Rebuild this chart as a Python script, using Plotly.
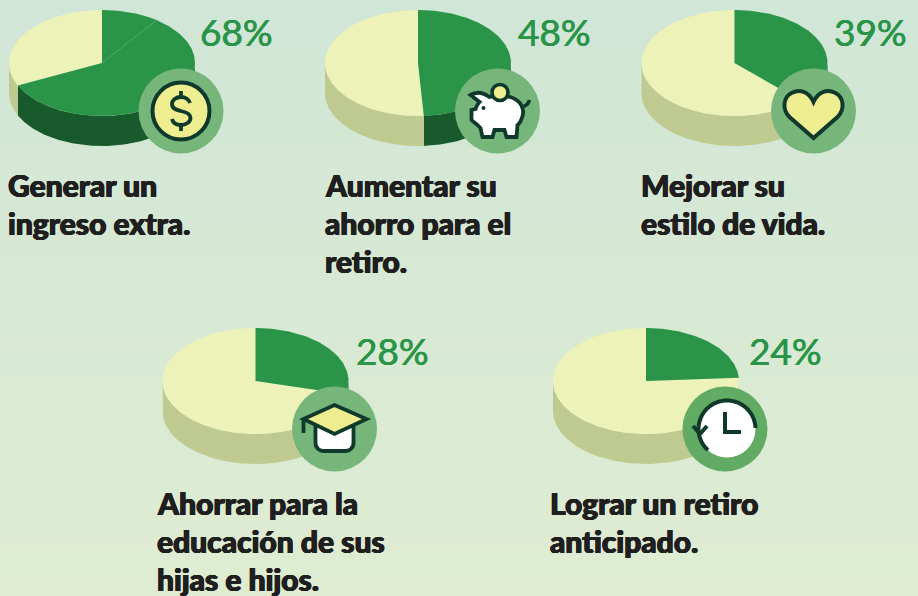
import numpy as np
import plotly.graph_objects as go

# survey shares, green slices in clockwise order from 12 o'clock
labels = [
    ["Generar un", "ingreso extra."],
    ["Aumentar su", "ahorro para el", "retiro."],
    ["Mejorar su", "estilo de vida."],
    ["Ahorrar para la", "educación de sus", "hijas e hijos."],
    ["Lograr un retiro", "anticipado."],
]
pct_labels = ["68%", "48%", "39%", "28%", "24%"]
# as drawn in the picture, the slices do not always match the printed share
green_slices = [[10, 58], [49], [37.5], [29], [24]]

# layout, in page pixels
centers = [(102, 63), (418, 63), (734.5, 63), (255.5, 381), (646, 381)]
badges = [(181, 111), (497.5, 111), (813.5, 111), (334.5, 429), (725, 429)]
pct_pos = [(198, 31), (516, 31), (832, 31), (354, 350), (747, 350)]
label_pos = [(6, 185), (323, 185), (639, 185), (155, 503), (548, 503)]
LINE_GAP = 38
RX, RY, DEPTH = 93, 53, 30

GREEN = "#2a9548"
DARK_GREEN = "#185a2b"
CREAM = "#ecf2b8"
CREAM_SIDE = "#bfca90"
INK = "#0f3a2b"
TEXT = "#1f1f20"
YELLOW = "#eeee90"
BADGE = "#77b67b"
BADGE_CLOCK = "#62ab64"


def arc(cx, cy, start, end, drop=0):
    t = np.radians(np.linspace(start, end, max(int(abs(end - start)), 2) + 1))
    return cx + RX * np.sin(t), cy - RY * np.cos(t) + drop


def add_poly(fig, x, y, color):
    fig.add_trace(go.Scatter(x=x, y=y, mode="lines", fill="toself", fillcolor=color,
                             line=dict(width=0), hoverinfo="skip", showlegend=False))


def add_side(fig, cx, cy, start, end, color):
    # only the front half of the rim is visible
    start, end = max(start, 90), min(end, 270)
    if end <= start:
        return
    xt, yt = arc(cx, cy, start, end)
    xb, yb = arc(cx, cy, start, end, DEPTH)
    add_poly(fig, np.r_[xt, xb[::-1]], np.r_[yt, yb[::-1]], color)


def add_pie(fig, cx, cy, slices):
    green_end = sum(slices) * 3.6
    add_side(fig, cx, cy, 0, green_end, DARK_GREEN)
    add_side(fig, cx, cy, green_end, 360, CREAM_SIDE)
    xa, ya = arc(cx, cy, green_end, 360)
    add_poly(fig, np.r_[cx, xa, cx], np.r_[cy, ya, cy], CREAM)
    pos = 0
    for s in slices:
        xa, ya = arc(cx, cy, pos * 3.6, (pos + s) * 3.6)
        add_poly(fig, np.r_[cx, xa, cx], np.r_[cy, ya, cy], GREEN)
        if pos > 0:
            fig.add_trace(go.Scatter(x=[cx, xa[0]], y=[cy, ya[0]], mode="lines",
                                     line=dict(width=0.7, color="#4fa765"),
                                     hoverinfo="skip", showlegend=False))
        pos += s


def disc(cx, cy, r, fill, line=None, width=0):
    return dict(type="circle", x0=cx - r, x1=cx + r, y0=cy - r, y1=cy + r, fillcolor=fill,
                line=dict(color=line or fill, width=width))


def path(d, ox, oy, fill="rgba(0,0,0,0)", width=3.8):
    # d is a list of (command, x, y, ...) relative to the badge centre
    parts = []
    for seg in d:
        cmd, vals = seg[0], seg[1:]
        if cmd == "Z":
            parts.append("Z")
            continue
        pts = [f"{vals[i] + ox:.1f},{vals[i + 1] + oy:.1f}" for i in range(0, len(vals), 2)]
        parts.append(cmd + " ".join(pts))
    return dict(type="path", path=" ".join(parts), fillcolor=fill,
                line=dict(color=INK, width=width))


def circle_path(cx, cy, r, start, end):
    t = np.radians(np.linspace(start, end, 60))
    return [("M" if i == 0 else "L", cx + r * np.sin(a), cy - r * np.cos(a)) for i, a in enumerate(t)]


def dollar_icon(ox, oy):
    s = [("M", 9, -8), ("C", 8, -12, 4, -14, 0, -14), ("C", -5, -14, -9, -11, -9, -7),
         ("C", -9, -2, -4, -1, 0, 0), ("C", 5, 1, 9.5, 3, 9.5, 7), ("C", 9.5, 11, 5, 14, 0, 14),
         ("C", -5, 14, -8, 12, -9, 8)]
    return [disc(ox, oy, 28.5, YELLOW, INK, 4), path(s, ox, oy),
            path([("M", 0, -20), ("L", 0, -14)], ox, oy), path([("M", 0, 14), ("L", 0, 20)], ox, oy)]


def pig_icon(ox, oy):
    body = [("M", -27, -16), ("C", -22, -19, -15, -19, -8, -14), ("C", 2, -16, 12, -16, 19, -11),
            ("C", 26, -6, 27, 2, 24, 8), ("C", 23, 12, 21, 13, 20, 14), ("L", 19, 26), ("L", 9, 26),
            ("L", 7, 19), ("L", -3, 19), ("L", -5, 26), ("L", -15, 26), ("L", -17, 17),
            ("C", -20, 14, -22, 12, -25, 10), ("L", -26, 9), ("L", -26, -1), ("L", -22, -2),
            ("C", -21, -6, -19, -8, -18, -9), ("Z",)]
    tail = [("M", 26, -5), ("C", 29, -5, 31, -8, 32, -11)]
    return [path(body, ox, oy, "#ffffff"), path(tail, ox, oy),
            disc(ox + 2.5, oy - 18.5, 8, YELLOW, INK, 3.6), disc(ox - 14, oy - 3, 2, INK)]


def heart_icon(ox, oy):
    h = [("M", 0, 27), ("L", -24, 6), ("C", -32, -2, -30, -14, -22, -18), ("C", -14, -22, -5, -20, 0, -9),
         ("C", 5, -20, 14, -22, 22, -18), ("C", 30, -14, 32, -2, 24, 6), ("Z",)]
    return [path(h, ox, oy, YELLOW, 4)]


def cap_icon(ox, oy):
    base = [("M", -19, -5), ("L", -19, 14), ("C", -19, 19, -15, 22, -11, 22), ("L", 11, 22),
            ("C", 15, 22, 19, 19, 19, 14), ("L", 19, -5), ("Z",)]
    top = [("M", 0, -24), ("L", 32, -10), ("L", 0, 5), ("L", -31, -10), ("Z",)]
    return [path(base, ox, oy, "#ffffff"), path(top, ox, oy, YELLOW),
            path([("M", -31, -10), ("L", -31, 4)], ox, oy)]


def clock_icon(ox, oy):
    ring = circle_path(2, 0, 28.5, 222, 448)
    return [disc(ox + 2, oy, 28.5, "#ffffff"), path(ring, ox, oy, width=4),
            path([("M", -32, -3), ("L", -25, 5), ("L", -18, -3)], ox, oy, width=4),
            path([("M", 0, -17), ("L", 0, 3), ("L", 16, 3)], ox, oy, width=4)]


icons = [dollar_icon, pig_icon, heart_icon, cap_icon, clock_icon]

fig = go.Figure()

# page background, soft vertical fade
fig.add_trace(go.Heatmap(x=[0, 918], y=[0, 596], z=[[0, 0], [1, 1]], zsmooth="best", showscale=False,
                         colorscale=[[0, "#d0e6d6"], [1, "#dfecd2"]], hoverinfo="skip"))

for (cx, cy), slices in zip(centers, green_slices):
    add_pie(fig, cx, cy, slices)

shapes = []
for i, (bx, by) in enumerate(badges):
    shapes.append(disc(bx, by, 42.5, BADGE_CLOCK if i == 4 else BADGE))
    shapes.extend(icons[i](bx, by))

annotations = []
for (x, y), text in zip(pct_pos, pct_labels):
    annotations.append(dict(x=x, y=y, text=text, xanchor="left", yanchor="middle", showarrow=False,
                            font=dict(family="Lato", size=37, color=GREEN,
                                      shadow=f"0.35px 0 0 {GREEN}, -0.35px 0 0 {GREEN}")))
# the reference face is heavier than any installed bold, so thicken it a little
heavy = f"0.6px 0 0 {TEXT}, -0.6px 0 0 {TEXT}, 0 0.4px 0 {TEXT}, 0 -0.4px 0 {TEXT}"
for (x, y), lines in zip(label_pos, labels):
    for j, line in enumerate(lines):
        annotations.append(dict(x=x, y=y + j * LINE_GAP, text=line, xanchor="left", yanchor="middle",
                                showarrow=False,
                                font=dict(family="Lato", size=30, color=TEXT, weight=900, shadow=heavy)))

fig.update_layout(
    width=918, height=596,
    margin=dict(l=0, r=0, t=0, b=0),
    paper_bgcolor="#d8e9d4",
    plot_bgcolor="rgba(0,0,0,0)",
    showlegend=False,
    shapes=shapes,
    annotations=annotations,
    xaxis=dict(range=[0, 918], visible=False, fixedrange=True),
    yaxis=dict(range=[596, 0], visible=False, fixedrange=True),
)

fig.write_html("out.html", config=dict(displayModeBar=False),
               post_script="document.body.style.margin='0';document.body.style.overflow='hidden';")
